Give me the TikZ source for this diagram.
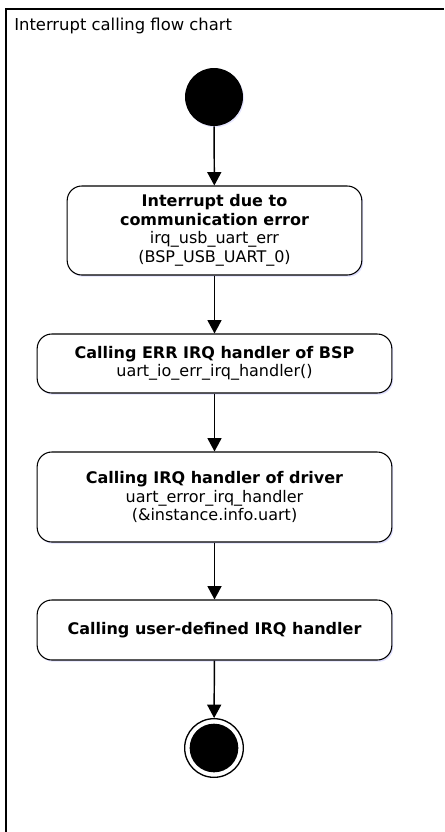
\documentclass[tikz,border=0pt]{standalone}
\usepackage{fontspec}
\setmainfont{DejaVu Sans}
\usepackage{tikz}
\usetikzlibrary{arrows.meta,shadows}

\begin{document}
\begin{tikzpicture}[x=0.75pt,y=-0.75pt,
  flowbox/.style={draw,rounded corners=11pt,line width=0.8pt,fill=white,align=center,
    font=\fontsize{12}{13.9}\selectfont,inner sep=0pt,
    drop shadow={shadow xshift=1pt,shadow yshift=-1.3pt,fill=blue!25,opacity=0.5}},
  startdot/.style={circle,fill=black,minimum size=43.5pt,inner sep=0pt,
    drop shadow={shadow xshift=0.8pt,shadow yshift=-1pt,fill=blue!20,opacity=0.5}},
  endring/.style={circle,draw,line width=1pt,fill=white,minimum size=44pt,inner sep=0pt},
  enddot/.style={circle,fill=black,minimum size=36.5pt,inner sep=0pt},
  flow/.style={line width=1.1pt,-{Triangle[width=10.5pt,length=10pt]}}]
\useasboundingbox (0,0) rectangle (444,832);

\draw[line width=1.6pt] (6,832) -- (6,9) -- (444,9);
\node[anchor=west,font=\fontsize{12.3}{14}\selectfont,inner sep=0pt] (title) at (14,26) {Interrupt calling flow chart};

\node[startdot] (start) at (214,97) {};
\node[flowbox,minimum width=221pt,minimum height=66.75pt] (irq) at (214.5,230.5)
  {\textbf{Interrupt due to}\\ \textbf{communication error}\\ irq\_usb\_uart\_err\\ (BSP\_USB\_UART\_0)};
\node[flowbox,minimum width=266pt,minimum height=44.25pt] (bsp) at (214.5,363.5)
  {\textbf{Calling ERR IRQ handler of BSP}\\ uart\_io\_err\_irq\_handler()};
\node[flowbox,minimum width=266pt,minimum height=67.5pt] (drv) at (214.5,497)
  {\textbf{Calling IRQ handler of driver}\\ uart\_error\_irq\_handler\\ (\&instance.info.uart)};
\node[flowbox,minimum width=266pt,minimum height=45pt] (user) at (214.5,630)
  {\textbf{Calling user-defined IRQ handler}};
\node[endring] (end) at (214,748) {};
\node[enddot] (endcore) at (end) {};

\draw[flow] (start) -- (irq);
\draw[flow] (irq) -- (bsp);
\draw[flow] (bsp) -- (drv);
\draw[flow] (drv) -- (user);
\draw[flow] (user) -- (end);
\end{tikzpicture}
\end{document}
